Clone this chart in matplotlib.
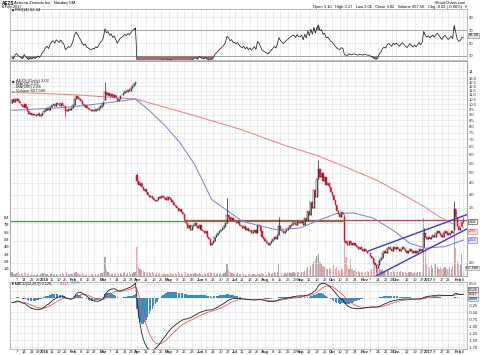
import numpy as np
import pandas as pd
import matplotlib
matplotlib.use('Agg')
import matplotlib.pyplot as plt
import matplotlib.transforms as mtrans
from matplotlib.ticker import FixedLocator, FixedFormatter, NullLocator, NullFormatter

plt.rcParams['font.family'] = ['Liberation Sans', 'DejaVu Sans']

# ---------------- data ----------------
holidays = ['2015-12-25', '2016-01-01', '2016-01-18', '2016-02-15', '2016-03-25',
            '2016-05-30', '2016-07-04', '2016-09-05', '2016-11-24', '2016-12-26',
            '2017-01-02', '2017-01-16']

# a few closes before the window, only used to warm up RSI / MACD
warmup_close = [10.9, 10.6, 10.8, 10.5, 10.3, 10.6, 10.4, 10.1, 10.3, 10.5, 10.2, 10.0, 10.3, 10.2]

close_dec15 = [10.4, 10.2, 10.5, 10.6, 10.3, 10.1, 9.9, 9.7, 10.0, 9.6, 9.3, 9.1, 9.2, 9.0, 9.1, 8.95, 9.0, 9.1, 8.9, 9.0, 9.2]
open_dec15 = [10.1, 10.5, 10.2, 10.4, 10.6, 10.3, 10.0, 9.95, 9.7, 10.0, 9.7, 9.35, 9.05, 9.2, 8.95, 9.1, 8.9, 9.0, 9.15, 8.85, 9.0]
vol_dec15 = [0.5, 0.4, 0.3, 0.4, 0.5, 0.3, 0.4, 0.3, 0.6, 0.4, 0.3, 0.3, 0.2, 0.3, 0.2, 0.3, 0.2, 0.3, 0.2, 0.3, 0.4]

close_jan16 = [9.3, 9.5, 9.6, 9.4, 9.7, 9.9, 10.0, 9.8, 10.1, 10.0, 9.9, 10.1, 9.9, 9.8, 9.3, 9.4, 9.5, 9.45, 9.6]
open_jan16 = [9.25, 9.3, 9.45, 9.6, 9.4, 9.75, 9.9, 10.05, 9.8, 10.1, 10.0, 9.85, 10.1, 9.9, 9.85, 9.3, 9.35, 9.5, 9.45]
vol_jan16 = [0.4, 0.3, 0.3, 0.2, 0.3, 0.4, 0.3, 0.3, 0.3, 0.2, 0.3, 0.3, 0.4, 0.3, 0.8, 0.4, 0.3, 0.3, 0.3]

close_feb16 = [9.9, 10.5, 10.9, 10.7, 10.5, 10.3, 10.0, 9.8, 9.9, 9.6, 9.5, 9.4, 9.3, 9.4, 9.35, 9.5, 9.4, 9.6, 9.8, 9.9]
open_feb16 = [9.6, 9.9, 10.5, 10.9, 10.7, 10.5, 10.3, 10.0, 9.75, 9.9, 9.6, 9.5, 9.45, 9.3, 9.4, 9.35, 9.5, 9.45, 9.6, 9.75]
vol_feb16 = [0.3, 0.4, 0.5, 0.4, 0.3, 0.3, 0.4, 0.3, 0.2, 0.3, 0.3, 0.2, 0.3, 0.3, 0.2, 0.3, 0.3, 0.3, 0.4, 0.4]

close_mar16 = [10.2, 11.3, 11.0, 11.2, 10.9, 11.1, 10.8, 11.0, 10.7, 10.3, 10.6, 10.9, 11.0, 11.2, 11.4, 11.3, 11.6, 11.5, 11.8, 12.1, 12.3, 12.6]
open_mar16 = [9.9, 10.4, 11.3, 10.95, 11.2, 10.85, 11.1, 10.8, 11.0, 10.7, 10.35, 10.6, 10.95, 11.0, 11.2, 11.45, 11.3, 11.65, 11.5, 11.8, 12.1, 12.3]
vol_mar16 = [0.5, 2.6, 0.8, 0.5, 0.4, 0.3, 0.4, 0.3, 0.4, 0.5, 0.3, 0.4, 0.3, 0.4, 0.5, 0.3, 0.4, 0.5, 0.3, 0.4, 0.5, 0.6]

close_apr16 = [4.6, 4.4, 4.5, 4.3, 4.2, 4.25, 4.1, 4.0, 3.9, 3.95, 3.85, 3.8, 3.75, 3.8, 3.9, 3.85, 3.95, 3.9, 3.85, 3.8, 3.9]
open_apr16 = [4.9, 4.6, 4.4, 4.5, 4.3, 4.15, 4.25, 4.1, 4.0, 3.9, 3.95, 3.85, 3.8, 3.75, 3.8, 3.9, 3.85, 3.95, 3.9, 3.85, 3.8]
vol_apr16 = [4.0, 1.3, 1.0, 0.8, 0.7, 0.6, 0.5, 0.6, 0.5, 0.4, 0.5, 0.4, 0.3, 0.4, 0.3, 0.4, 0.3, 0.3, 0.4, 0.3, 0.3]

close_may16 = [3.85, 3.8, 3.7, 3.6, 3.55, 3.5, 3.4, 3.45, 3.35, 3.3, 3.1, 3.0, 2.85, 2.95, 2.8, 2.9, 2.95, 3.0, 2.9, 2.85, 2.95]
open_may16 = [3.9, 3.85, 3.8, 3.7, 3.6, 3.55, 3.5, 3.4, 3.45, 3.35, 3.3, 3.1, 3.0, 2.85, 2.95, 2.8, 2.9, 2.95, 3.0, 2.9, 2.85]
vol_may16 = [0.3, 0.4, 0.3, 0.3, 0.4, 0.3, 0.5, 0.3, 0.4, 0.3, 0.6, 0.5, 0.4, 0.3, 0.4, 0.3, 0.3, 0.4, 0.3, 0.3, 0.4]

close_jun16 = [2.8, 2.75, 2.7, 2.75, 2.6, 2.55, 2.4, 2.45, 2.5, 2.6, 2.65, 2.7, 2.75, 2.8, 2.85, 2.9, 3.0, 3.25, 3.2, 3.1, 3.15, 3.05]
open_jun16 = [2.95, 2.8, 2.75, 2.7, 2.75, 2.6, 2.55, 2.4, 2.45, 2.5, 2.6, 2.65, 2.7, 2.75, 2.8, 2.85, 2.9, 3.0, 3.25, 3.2, 3.1, 3.15]
vol_jun16 = [0.3, 0.3, 0.4, 0.3, 0.4, 0.5, 0.6, 0.4, 0.3, 0.4, 0.3, 0.4, 0.3, 0.4, 0.3, 0.4, 0.5, 1.6, 0.8, 0.5, 0.4, 0.4]

close_jul16 = [3.05, 3.0, 3.05, 2.95, 2.9, 2.85, 2.9, 2.8, 2.85, 2.75, 2.8, 2.7, 2.75, 2.8, 2.7, 2.95, 2.9, 2.75, 2.6, 2.55]
open_jul16 = [3.05, 3.05, 3.0, 3.05, 2.95, 2.9, 2.85, 2.9, 2.8, 2.85, 2.75, 2.8, 2.7, 2.75, 2.8, 2.7, 2.95, 2.9, 2.75, 2.6]
vol_jul16 = [0.3, 0.3, 0.4, 0.3, 0.3, 0.4, 0.3, 0.3, 0.2, 0.3, 0.3, 0.2, 0.3, 0.3, 0.2, 0.4, 0.3, 0.3, 0.4, 0.3]

close_aug16 = [2.5, 2.45, 2.4, 2.45, 2.5, 2.55, 2.6, 2.55, 2.65, 2.9, 2.8, 2.75, 2.7, 2.75, 2.8, 2.85, 2.9, 2.95, 3.0, 3.0, 2.95, 3.05, 3.0]
open_aug16 = [2.55, 2.5, 2.45, 2.4, 2.45, 2.5, 2.55, 2.6, 2.55, 2.65, 2.9, 2.8, 2.75, 2.7, 2.75, 2.8, 2.85, 2.9, 2.95, 3.0, 3.0, 2.95, 3.05]
vol_aug16 = [0.4, 0.3, 0.5, 0.4, 0.3, 0.4, 0.5, 0.4, 0.6, 1.7, 0.7, 0.4, 0.3, 0.4, 0.3, 0.4, 0.5, 0.4, 0.6, 0.5, 0.4, 0.6, 0.5]

close_sep16 = [3.0, 3.05, 2.95, 3.15, 3.05, 3.4, 3.25, 3.7, 3.5, 4.2, 3.9, 4.7, 5.2, 4.8, 5.0, 4.6, 4.8, 4.4, 4.5, 4.3, 4.1]
open_sep16 = [3.0, 3.0, 3.05, 2.95, 3.15, 3.05, 3.4, 3.25, 3.7, 3.5, 4.2, 3.9, 4.7, 5.2, 4.8, 5.0, 4.6, 4.8, 4.4, 4.5, 4.3]
vol_sep16 = [0.5, 0.6, 0.5, 0.7, 0.9, 1.2, 0.9, 1.4, 1.6, 2.0, 2.4, 2.8, 3.0, 1.9, 1.6, 1.4, 1.2, 1.0, 0.9, 1.1, 1.0]

close_oct16 = [4.0, 3.8, 3.6, 3.4, 3.3, 3.2, 3.35, 3.3, 2.5, 2.45, 2.4, 2.5, 2.45, 2.4, 2.45, 2.4, 2.35, 2.3, 2.35, 2.3, 2.25]
open_oct16 = [4.1, 4.0, 3.8, 3.6, 3.4, 3.3, 3.2, 3.35, 3.2, 2.5, 2.45, 2.4, 2.5, 2.45, 2.4, 2.45, 2.4, 2.35, 2.3, 2.35, 2.3]
vol_oct16 = [1.0, 1.5, 0.9, 1.2, 0.8, 0.7, 0.9, 0.8, 6.0, 2.6, 1.5, 1.0, 2.4, 0.9, 0.7, 0.8, 0.6, 0.7, 0.6, 0.5, 0.6]

close_nov16 = [2.3, 2.25, 2.2, 2.2, 2.15, 2.1, 2.0, 1.95, 1.9, 1.95, 2.05, 2.1, 2.2, 2.25, 2.2, 2.3, 2.35, 2.3, 2.25, 2.35, 2.3]
open_nov16 = [2.25, 2.3, 2.25, 2.2, 2.2, 2.15, 2.1, 2.0, 1.95, 1.9, 1.95, 2.05, 2.1, 2.2, 2.25, 2.2, 2.3, 2.35, 2.3, 2.25, 2.35]
vol_nov16 = [0.6, 0.5, 0.7, 0.6, 0.8, 1.0, 1.4, 2.3, 1.6, 1.1, 0.9, 0.8, 1.0, 0.7, 0.6, 0.8, 0.7, 0.5, 0.6, 0.7, 0.6]

close_dec16 = [2.35, 2.3, 2.25, 2.3, 2.35, 2.3, 2.25, 2.2, 2.25, 2.3, 2.25, 2.2, 2.25, 2.2, 2.25, 2.3, 2.25, 2.3, 2.7, 2.6, 2.55]
open_dec16 = [2.3, 2.35, 2.3, 2.25, 2.3, 2.35, 2.3, 2.25, 2.2, 2.25, 2.3, 2.25, 2.2, 2.25, 2.2, 2.25, 2.3, 2.25, 2.35, 2.7, 2.6]
vol_dec16 = [0.6, 0.5, 0.6, 0.7, 0.5, 0.6, 0.5, 0.4, 0.5, 0.6, 0.5, 0.4, 0.5, 0.4, 0.5, 0.6, 0.5, 0.6, 8.0, 3.8, 1.6]

close_jan17 = [2.6, 2.55, 2.6, 2.65, 2.6, 2.7, 2.75, 2.7, 2.65, 2.6, 2.7, 2.75, 2.7, 2.65, 2.7, 2.75, 2.7, 3.45, 3.2, 2.9]
open_jan17 = [2.55, 2.6, 2.55, 2.6, 2.65, 2.6, 2.7, 2.75, 2.7, 2.65, 2.6, 2.7, 2.75, 2.7, 2.65, 2.7, 2.75, 2.8, 3.45, 3.2]
vol_jan17 = [1.4, 1.2, 1.5, 1.1, 1.6, 1.8, 1.3, 1.0, 1.2, 0.9, 1.1, 1.3, 1.0, 0.9, 1.2, 1.0, 1.4, 7.0, 3.8, 2.0]

close_feb17 = [2.8, 2.85, 3.04, 3.02]
open_feb17 = [2.9, 2.8, 2.9, 3.10]
vol_feb17 = [1.8, 1.5, 3.0, 0.66]

# wick extremes that stick out of the bodies
wick_high = {'2016-03-02': 12.6, '2016-04-01': 5.0, '2016-06-24': 3.85, '2016-08-12': 3.2,
             '2016-09-20': 5.7, '2016-10-13': 3.3, '2016-12-28': 2.85, '2017-01-27': 3.75,
             '2017-02-06': 3.17}
wick_low = {'2016-01-25': 8.75, '2016-04-01': 4.5, '2016-11-11': 1.82, '2017-02-06': 3.01}

# moving averages (sampled off the chart)
ma50_dates = ['2015-12-02', '2016-01-26', '2016-03-01', '2016-03-31', '2016-04-13', '2016-04-27',
              '2016-05-11', '2016-05-25', '2016-06-10', '2016-07-11', '2016-08-10', '2016-09-01',
              '2016-09-21', '2016-10-06', '2016-10-21', '2016-11-09', '2016-11-29', '2016-12-14',
              '2016-12-29', '2017-01-19', '2017-02-06']
ma50_vals = [9.4, 9.7, 10.1, 10.55, 9.4, 8.1, 6.8, 5.4, 3.8, 3.05, 2.8, 2.85,
             3.1, 3.3, 3.32, 3.15, 2.78, 2.44, 2.32, 2.36, 2.52]
ma200_dates = ['2015-12-02', '2016-02-04', '2016-03-31', '2016-04-22', '2016-05-25', '2016-07-08',
               '2016-08-19', '2016-09-19', '2016-10-17', '2016-11-14', '2016-12-06', '2016-12-28',
               '2017-01-12', '2017-01-27', '2017-02-06']
ma200_vals = [11.3, 11.0, 10.55, 9.85, 8.9, 7.75, 6.55, 5.95, 5.25, 4.6, 4.05, 3.55, 3.2, 2.95, 2.86]

# drawn annotations: horizontal levels and the rising channel
green_level = 3.06
green_end = '2016-10-12'
red_level = 3.08
red_start = '2016-05-16'
channel_upper = [('2016-11-04', 2.26), ('2017-02-06', 3.22)]
channel_lower = [('2016-11-10', 1.74), ('2017-02-06', 2.77)]

# header / legend numbers
last_vals = {'open': 3.10, 'high': 3.17, 'low': 3.01, 'close': 3.02, 'ma50': 2.52, 'ma200': 2.86,
             'rsi': 62.34, 'macd': 0.126, 'signal': 0.117, 'hist': 0.009}

price_ticks = [2.0, 2.5, 3.0, 3.5, 4.0, 4.5, 5.0, 5.5, 6.0, 6.5, 7.0, 7.5, 8.0, 8.5, 9.0,
               9.5, 10.0, 10.5, 11.0, 11.5, 12.0, 12.5, 13.0, 14.0]
vol_ticks = [1, 2, 3, 4, 5, 6, 7, 8]
rsi_ticks = [30, 50, 70, 90]
macd_ticks = [0.5, 0.25, 0.0, -0.25, -0.5, -0.75, -1.0, -1.25, -1.5, -1.75]

# ---------------- assemble ----------------
months = ['dec15', 'jan16', 'feb16', 'mar16', 'apr16', 'may16', 'jun16', 'jul16',
          'aug16', 'sep16', 'oct16', 'nov16', 'dec16', 'jan17', 'feb17']
close = np.array(sum([globals()['close_' + m] for m in months], []))
opn = np.array(sum([globals()['open_' + m] for m in months], []))
vol = np.array(sum([globals()['vol_' + m] for m in months], []))

days = pd.bdate_range('2015-12-02', '2017-02-06', freq='C', holidays=holidays)
n = min(len(days), len(close))
close, opn, vol, days = close[:n], opn[:n], vol[:n], days[:n]
x = np.arange(n)


def idx(d):
    return int(days.get_indexer([pd.Timestamp(d)], method='nearest')[0])


hi = np.maximum(opn, close)
lo = np.minimum(opn, close)
for d, v in wick_high.items():
    hi[idx(d)] = v
for d, v in wick_low.items():
    lo[idx(d)] = v

prev = np.concatenate([[warmup_close[-1]], close[:-1]])
up = close >= prev
ccol = np.where(up, '#1c1c1c', '#e3132b')

# indicators
full = pd.Series(np.concatenate([warmup_close, close]))
dlt = full.diff()
gain = dlt.clip(lower=0).ewm(alpha=1 / 14, adjust=False).mean()
loss = (-dlt.clip(upper=0)).ewm(alpha=1 / 14, adjust=False).mean()
rsi = (100 - 100 / (1 + gain / loss)).values[len(warmup_close):]
ema12 = full.ewm(span=12, adjust=False).mean()
ema26 = full.ewm(span=26, adjust=False).mean()
macd = (ema12 - ema26)
signal = macd.ewm(span=9, adjust=False).mean()
hist = (macd - signal).values[len(warmup_close):]
macd = macd.values[len(warmup_close):]
signal = signal.values[len(warmup_close):]

# date ticks: first trading day of each week, month names at month starts
mstart = [i for i in range(1, n) if days[i].month != days[i - 1].month]
tpos, tlab, tbold = [], [], []
for i in range(1, n):
    if i in mstart:
        tpos.append(i)
        tlab.append(str(days[i].year) if days[i].month == 1 else days[i].strftime('%b'))
        tbold.append(True)
    elif days[i].isocalendar()[1] != days[i - 1].isocalendar()[1]:
        if any(abs(m - i) <= 2 for m in mstart):
            continue
        tpos.append(i)
        tlab.append(str(days[i].day))
        tbold.append(False)

# ---------------- figure ----------------
fig = plt.figure(figsize=(4.8, 3.55), dpi=100)
L, W = 10 / 480, 457 / 480


def band(top, bottom):
    return [L, 1 - bottom / 355, W, (bottom - top) / 355]


ax_r = fig.add_axes(band(8.5, 60))
ax = fig.add_axes(band(61, 276))
ax_m = fig.add_axes(band(282, 348.5))
ax_v = ax.twinx()
xlo, xhi = -1.3, 298.4
grid_c = '#e2e2e2'
fs = 3.0

for a in (ax_r, ax, ax_m, ax_v):
    a.set_xlim(xlo, xhi)
    for s in a.spines.values():
        s.set_color('#a0a0a0')
        s.set_linewidth(0.5)
    a.tick_params(length=0, labelsize=fs, pad=1.2, colors='#222222')

for a in (ax_r, ax, ax_m):
    a.set_xticks(tpos)
    a.grid(axis='x', color=grid_c, lw=0.45)
    a.set_axisbelow(True)

# ---- RSI panel ----
ax_r.set_ylim(23.8, 103.6)
ax_r.yaxis.tick_right()
ax_r.set_yticks(rsi_ticks)
ax_r.set_yticklabels([str(t) for t in rsi_ticks])
ax_r.set_xticklabels([])
ax_r.axhline(90, color=grid_c, lw=0.45)
ax_r.axhline(50, color='#cccccc', lw=0.45, ls=(0, (2, 1.5)))
ax_r.axhline(70, color='#8a8a8a', lw=0.55)
ax_r.axhline(30, color='#8a8a8a', lw=0.55)
ax_r.fill_between(x, rsi, 30, where=rsi < 30, interpolate=True, color='#a86a66', lw=0)
ax_r.fill_between(x, rsi, 70, where=rsi > 70, interpolate=True, color='#a86a66', lw=0)
ax_r.plot(x, rsi, color='#111111', lw=0.5)
ax_r.text(1.004, last_vals['rsi'], '%.2f' % last_vals['rsi'],
          transform=mtrans.blended_transform_factory(ax_r.transAxes, ax_r.transData),
          fontsize=2.8, va='center', ha='left',
          bbox=dict(boxstyle='square,pad=0.15', fc='#e6e6e6', ec='#777777', lw=0.4))

# ---- price + volume panel ----
ax.set_zorder(2)
ax_v.set_zorder(1)
ax.patch.set_visible(False)
ax.set_yscale('log')
ax.set_ylim(1.75, 15.52)
ax.yaxis.tick_right()
ax.yaxis.set_major_locator(FixedLocator(price_ticks))
ax.yaxis.set_major_formatter(FixedFormatter(['%d' % t if t >= 14 else '%.1f' % t for t in price_ticks]))
ax.yaxis.set_minor_locator(NullLocator())
ax.yaxis.set_minor_formatter(NullFormatter())
ax.grid(axis='y', color=grid_c, lw=0.45)
ax.set_xticklabels(tlab)
for t, b in zip(ax.get_xticklabels(), tbold):
    t.set_fontweight('bold' if b else 'normal')
for t in ax.get_yticklabels():
    if t.get_text() in ('2.5', '3.0'):
        t.set_visible(False)

ax_v.set_ylim(0, 29.5)
ax_v.yaxis.tick_left()
ax_v.set_yticks(vol_ticks)
ax_v.set_yticklabels(['%dM' % t for t in vol_ticks])
ax_v.tick_params(labelsize=2.8, pad=0.8)
ax_v.bar(x, vol, width=0.78, color=np.where(up, '#a9a9a9', '#f4a6aa'), lw=0)

ax.hlines(green_level, xlo, idx(green_end), color='#3d9a3d', lw=0.9)
ax.hlines(red_level, idx(red_start), xhi, color='#e23a3a', lw=0.9)

ma50_x = [idx(d) for d in ma50_dates]
ma200_x = [idx(d) for d in ma200_dates]
ax.plot(ma200_x, ma200_vals, color='#f28080', lw=0.75)
ax.plot(ma50_x, ma50_vals, color='#7f84d8', lw=0.75)

ax.vlines(x, lo, hi, color=ccol, lw=0.5)
body_h = np.maximum(np.abs(close - opn), close * 0.008)
face = np.where(close < opn, ccol, 'white')
ax.bar(x, body_h, bottom=np.minimum(opn, close), width=0.8, color=face, edgecolor=ccol, linewidth=0.35)

for (d0, p0), (d1, p1) in (channel_upper, channel_lower):
    i0, i1 = idx(d0), idx(d1)
    k = (np.log(p1) - np.log(p0)) / (i1 - i0)
    xs = np.array([i0, xhi])
    ax.plot(xs, np.exp(np.log(p0) + k * (xs - i0)), color='#3737e0', lw=1.0)

# value flags on the right edge (nudged apart like the original)
tb = mtrans.blended_transform_factory(ax.transAxes, ax.transData)
flag = dict(fontsize=2.8, va='center', ha='left', transform=tb)
ax.text(1.004, last_vals['close'] * 1.005, '%.2f' % last_vals['close'],
        bbox=dict(boxstyle='square,pad=0.15', fc='#f2f2f2', ec='#333333', lw=0.4), **flag)
ax.text(1.004, last_vals['ma200'] * 0.965, '%.2f' % last_vals['ma200'], color='#c03030',
        bbox=dict(boxstyle='square,pad=0.15', fc='#fde3e3', ec='#e87070', lw=0.4), **flag)
ax.text(1.004, last_vals['ma50'], '%.2f' % last_vals['ma50'], color='#3030a0',
        bbox=dict(boxstyle='square,pad=0.15', fc='#e3e6f8', ec='#7070d0', lw=0.4), **flag)
ax_v.text(478.5 / 480, 1.1, '657,500', fontsize=2.5, va='center', ha='right',
          transform=mtrans.blended_transform_factory(fig.transFigure, ax_v.transData),
          bbox=dict(boxstyle='square,pad=0.12', fc='#ececec', ec='#999999', lw=0.4))

# legend inside price panel
leg = [('\u25a0', '#222222', 'AEZS (Daily) %.2f' % last_vals['close']),
       ('\u2014', '#6b70d0', 'MA(50) %.2f' % last_vals['ma50']),
       ('\u2014', '#ee6a6a', 'MA(200) %.2f' % last_vals['ma200']),
       ('\u25a0', '#9a9a9a', 'Volume 657,500')]
for k, (g, c, s) in enumerate(leg):
    yy = 1 - (80.7 - 61 + 3.3 * k) / 215
    ax.text(2 / 457, yy, g, color=c, fontsize=fs, va='center', transform=ax.transAxes)
    ax.text(6 / 457, yy, s, color='#222222', fontsize=fs, va='center', transform=ax.transAxes)

# ---- MACD panel ----
ax_m.set_ylim(-1.80, 0.571)
ax_m.yaxis.tick_right()
ax_m.set_yticks(macd_ticks)
ax_m.set_yticklabels(['' if t in (0.25, 0.0) else '%.2f' % t for t in macd_ticks])
ax_m.grid(axis='y', color=grid_c, lw=0.45)
ax_m.set_xticklabels(tlab)
for t, b in zip(ax_m.get_xticklabels(), tbold):
    t.set_fontweight('bold' if b else 'normal')
ax_m.bar(x, hist, width=0.9, color='#3a8cc4', lw=0)
ax_m.plot(x, signal, color='#f05a5a', lw=0.6)
ax_m.plot(x, macd, color='#222222', lw=0.6)
tm = mtrans.blended_transform_factory(ax_m.transAxes, ax_m.transData)
for v, ypos, fc, ec in ((last_vals['macd'], 0.30, '#f2f2f2', '#333333'),
                        (last_vals['signal'], 0.135, '#fde3e3', '#e87070'),
                        (last_vals['hist'], -0.03, '#dfeefa', '#3a8cc4')):
    ax_m.text(1.004, ypos, '%.3f' % v, fontsize=2.5, va='center', ha='left', transform=tm,
              bbox=dict(boxstyle='square,pad=0.1', fc=fc, ec=ec, lw=0.4))

# ---- header texts ----
fig.text(2 / 480, 1 - 0.8 / 355, 'AEZS', fontsize=3.4, weight='bold', va='top')
fig.text(14 / 480, 1 - 1.0 / 355, 'Aeterna Zentaris Inc.  Nasdaq GM', fontsize=2.9, va='top')
fig.text(2 / 480, 1 - 4.6 / 355, '6-Feb-2017', fontsize=2.9, va='top')
fig.text(11 / 480, 1 - 8.2 / 355, '\u25b2RSI(14) %.2f' % last_vals['rsi'], fontsize=2.9, va='top')
fig.text(466 / 480, 1 - 0.8 / 355, '\u00a9StockCharts.com', fontsize=2.8, va='top', ha='right')
fig.text(462 / 480, 1 - 4.6 / 355,
         'Open %.2f   High %.2f   Low %.2f   Close %.2f   Volume 657.5K   Chg -0.02 (-0.66%%)'
         % (last_vals['open'], last_vals['high'], last_vals['low'], last_vals['close']),
         fontsize=2.9, va='top', ha='right')
fig.text(463 / 480, 1 - 4.6 / 355, '\u25bc', color='#e3132b', fontsize=2.9, va='top', ha='left')
fig.text(11 / 480, 1 - 281.5 / 355, '\u25bcMACD(12,26,9) %.3f,' % last_vals['macd'], fontsize=2.7, va='top')
fig.text(60 / 480, 1 - 281.5 / 355, '%.3f,' % last_vals['signal'], color='#e3132b', fontsize=2.7, va='top')
fig.text(71 / 480, 1 - 281.5 / 355, '%.3f' % last_vals['hist'], color='#3a8cc4', fontsize=2.7, va='top')

fig.savefig('out.png', dpi=100)
